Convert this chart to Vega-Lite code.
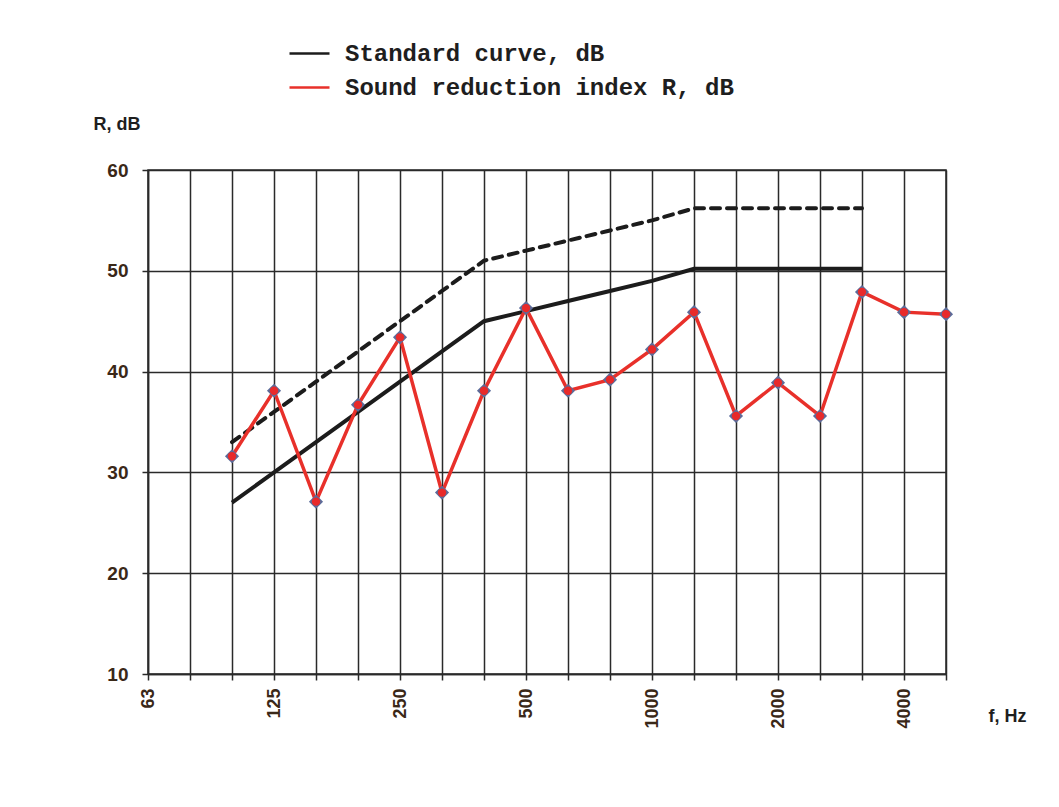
{
  "$schema": "https://vega.github.io/schema/vega-lite/v6.json",
  "autosize": "none",
  "width": 798,
  "height": 504,
  "padding": {"left": 148, "top": 170, "right": 113, "bottom": 133},
  "background": "white",
  "config": {
    "view": {"stroke": "#2a2a2a", "strokeWidth": 1.5},
    "axis": {"labelFont": "Liberation Sans", "titleFont": "Liberation Sans"}
  },
  "data": {
    "values": [
      {"f": "100", "series": "Standard curve, dB", "value": 27},
      {"f": "125", "series": "Standard curve, dB", "value": 30},
      {"f": "160", "series": "Standard curve, dB", "value": 33},
      {"f": "200", "series": "Standard curve, dB", "value": 36},
      {"f": "250", "series": "Standard curve, dB", "value": 39},
      {"f": "315", "series": "Standard curve, dB", "value": 42},
      {"f": "400", "series": "Standard curve, dB", "value": 45},
      {"f": "500", "series": "Standard curve, dB", "value": 46},
      {"f": "630", "series": "Standard curve, dB", "value": 47},
      {"f": "800", "series": "Standard curve, dB", "value": 48},
      {"f": "1000", "series": "Standard curve, dB", "value": 49},
      {"f": "1250", "series": "Standard curve, dB", "value": 50.2},
      {"f": "1600", "series": "Standard curve, dB", "value": 50.2},
      {"f": "2000", "series": "Standard curve, dB", "value": 50.2},
      {"f": "2500", "series": "Standard curve, dB", "value": 50.2},
      {"f": "3150", "series": "Standard curve, dB", "value": 50.2},
      {"f": "100", "series": "Reference curve", "value": 33},
      {"f": "125", "series": "Reference curve", "value": 36},
      {"f": "160", "series": "Reference curve", "value": 39},
      {"f": "200", "series": "Reference curve", "value": 42},
      {"f": "250", "series": "Reference curve", "value": 45},
      {"f": "315", "series": "Reference curve", "value": 48},
      {"f": "400", "series": "Reference curve", "value": 51},
      {"f": "500", "series": "Reference curve", "value": 52},
      {"f": "630", "series": "Reference curve", "value": 53},
      {"f": "800", "series": "Reference curve", "value": 54},
      {"f": "1000", "series": "Reference curve", "value": 55},
      {"f": "1250", "series": "Reference curve", "value": 56.2},
      {"f": "1600", "series": "Reference curve", "value": 56.2},
      {"f": "2000", "series": "Reference curve", "value": 56.2},
      {"f": "2500", "series": "Reference curve", "value": 56.2},
      {"f": "3150", "series": "Reference curve", "value": 56.2},
      {"f": "100", "series": "Sound reduction index R, dB", "value": 31.6},
      {"f": "125", "series": "Sound reduction index R, dB", "value": 38.1},
      {"f": "160", "series": "Sound reduction index R, dB", "value": 27.1},
      {"f": "200", "series": "Sound reduction index R, dB", "value": 36.7},
      {"f": "250", "series": "Sound reduction index R, dB", "value": 43.4},
      {"f": "315", "series": "Sound reduction index R, dB", "value": 28.0},
      {"f": "400", "series": "Sound reduction index R, dB", "value": 38.1},
      {"f": "500", "series": "Sound reduction index R, dB", "value": 46.3},
      {"f": "630", "series": "Sound reduction index R, dB", "value": 38.1},
      {"f": "800", "series": "Sound reduction index R, dB", "value": 39.2},
      {"f": "1000", "series": "Sound reduction index R, dB", "value": 42.2},
      {"f": "1250", "series": "Sound reduction index R, dB", "value": 45.9},
      {"f": "1600", "series": "Sound reduction index R, dB", "value": 35.6},
      {"f": "2000", "series": "Sound reduction index R, dB", "value": 38.9},
      {"f": "2500", "series": "Sound reduction index R, dB", "value": 35.6},
      {"f": "3150", "series": "Sound reduction index R, dB", "value": 47.9},
      {"f": "4000", "series": "Sound reduction index R, dB", "value": 45.9},
      {"f": "5000", "series": "Sound reduction index R, dB", "value": 45.7}
    ]
  },
  "encoding": {
    "x": {
      "field": "f",
      "type": "ordinal",
      "scale": {"type": "point", "padding": 0, "domain": ["63","80","100","125","160","200","250","315","400","500","630","800","1000","1250","1600","2000","2500","3150","4000","5000"]},
      "axis": {
        "title": "f, Hz",
        "titleX": 840,
        "titleY": 42,
        "titleAlign": "left",
        "titleBaseline": "middle",
        "titleFontSize": 18,
        "titleFontWeight": "bold",
        "titleColor": "#1e1e1e",
        "labelExpr": "indexof(['63','125','250','500','1000','2000','4000'], datum.value) >= 0 ? datum.value : ''",
        "labelAngle": 270,
        "labelAlign": "right",
        "labelBaseline": "middle",
        "labelPadding": 8,
        "labelFontSize": 18,
        "labelFontWeight": "bold",
        "labelColor": "#3a2818",
        "labelOverlap": false,
        "grid": true,
        "gridColor": "#2a2a2a",
        "gridWidth": 1.5,
        "domainColor": "#2a2a2a",
        "domainWidth": 1.5,
        "tickColor": "#2a2a2a",
        "tickWidth": 1.5,
        "tickSize": 6
      }
    },
    "y": {
      "field": "value",
      "type": "quantitative",
      "scale": {"domain": [10, 60], "nice": false, "zero": false},
      "axis": {
        "title": "R, dB",
        "titleAngle": 0,
        "titleX": -55,
        "titleY": -46,
        "titleAlign": "left",
        "titleBaseline": "middle",
        "titleFontSize": 18,
        "titleFontWeight": "bold",
        "titleColor": "#1e1e1e",
        "values": [10, 20, 30, 40, 50, 60],
        "labelFontSize": 19,
        "labelFontWeight": "bold",
        "labelColor": "#3a2818",
        "labelPadding": 14,
        "grid": true,
        "gridColor": "#2a2a2a",
        "gridWidth": 1.5,
        "domainColor": "#2a2a2a",
        "domainWidth": 1.5,
        "tickColor": "#2a2a2a",
        "tickWidth": 1.5,
        "tickSize": 6
      }
    }
  },
  "layer": [
    {
      "transform": [{"filter": "datum.series === 'Reference curve'"}],
      "mark": {"type": "line", "color": "#1c1c1c", "strokeWidth": 4, "strokeDash": [9, 7], "strokeCap": "round"}
    },
    {
      "transform": [{"filter": "datum.series === 'Standard curve, dB'"}],
      "mark": {"type": "line", "strokeWidth": 4},
      "encoding": {
        "color": {
          "field": "series",
          "type": "nominal",
          "scale": {"domain": ["Standard curve, dB", "Sound reduction index R, dB"], "range": ["#1c1c1c", "#e8302a"]},
          "legend": {
            "title": null,
            "orient": "none",
            "legendX": 140,
            "legendY": -138,
            "symbolType": "stroke",
            "symbolSize": 1600,
            "symbolStrokeWidth": 2.5,
            "labelFont": "Liberation Mono",
            "labelFontWeight": "bold",
            "labelFontSize": 24,
            "labelColor": "#1e1e1e",
            "labelOffset": 14,
            "labelLimit": 700,
            "rowPadding": -3
          }
        }
      }
    },
    {
      "transform": [{"filter": "datum.series === 'Sound reduction index R, dB'"}],
      "mark": {"type": "line", "strokeWidth": 3.5},
      "encoding": {"color": {"field": "series", "type": "nominal"}}
    },
    {
      "transform": [{"filter": "datum.series === 'Sound reduction index R, dB'"}],
      "mark": {"type": "point", "shape": "diamond", "filled": true, "color": "#5c6c9a", "size": 200, "opacity": 1}
    },
    {
      "transform": [{"filter": "datum.series === 'Sound reduction index R, dB'"}],
      "mark": {"type": "point", "shape": "circle", "filled": true, "color": "#e82a2a", "size": 70, "opacity": 1}
    }
  ]
}
